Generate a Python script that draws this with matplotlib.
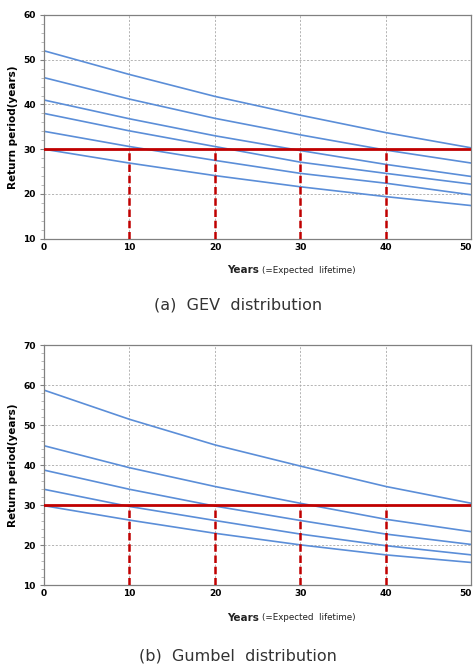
import numpy as np
import matplotlib.pyplot as plt
from matplotlib.ticker import MultipleLocator

plt.rcParams['font.family'] = ['DejaVu Sans']

years = [0, 10, 20, 30, 40, 50]
x_ticks = [0, 10, 20, 30, 40, 50]

# GEV distribution curves (return period, years)
gev_1 = [52.0, 46.7, 41.8, 37.6, 33.7, 30.3]
gev_2 = [46.0, 41.2, 36.9, 33.2, 29.8, 26.9]
gev_3 = [41.0, 36.8, 33.0, 29.7, 26.6, 23.9]
gev_4 = [38.0, 34.1, 30.6, 27.1, 24.6, 22.2]
gev_5 = [34.0, 30.6, 27.5, 24.6, 22.4, 19.8]
gev_6 = [30.0, 26.9, 24.1, 21.6, 19.4, 17.4]

# Gumbel distribution curves
gum_1 = [58.8, 51.5, 45.1, 39.8, 34.7, 30.5]
gum_2 = [44.9, 39.4, 34.7, 30.5, 26.5, 23.4]
gum_3 = [38.8, 34.0, 29.8, 26.2, 22.8, 20.2]
gum_4 = [34.0, 29.7, 26.2, 22.8, 19.9, 17.6]
gum_5 = [29.9, 26.3, 23.0, 20.1, 17.6, 15.7]

target_T = 30
marker_years = [10, 20, 30, 40]

blue = '#5b8ed8'
red = '#c00000'

fig = plt.figure(figsize=(4.76, 6.66), dpi=100)
ax1 = fig.add_axes([0.0924, 0.6416, 0.898, 0.3359])
ax2 = fig.add_axes([0.0924, 0.1212, 0.898, 0.3603])


def style(ax, ymax):
    ax.set_xlim(0, 50)
    ax.set_ylim(10, ymax)
    ax.set_xticks(x_ticks, [str(t) for t in x_ticks])
    ax.yaxis.set_major_locator(MultipleLocator(10))
    ax.yaxis.set_minor_locator(MultipleLocator(2))
    ax.grid(True, which='major', color='#a8a8a8', linestyle=(0, (2.5, 2)), linewidth=0.6)
    for s in ax.spines.values():
        s.set_color('#808080')
        s.set_linewidth(0.9)
    ax.tick_params(axis='both', which='major', length=3, labelsize=6.5, color='#808080', pad=3)
    ax.tick_params(axis='y', which='minor', length=2, color='#b0b0b0')
    ax.tick_params(axis='x', which='major', length=0)
    for lab in ax.get_xticklabels() + ax.get_yticklabels():
        lab.set_fontweight('bold')
    # keep the last x label inside the figure
    ax.get_xticklabels()[-1].set_horizontalalignment('right')
    ax.set_ylabel('Return period(years)', fontsize=7.5, fontweight='bold', labelpad=4)


def draw(ax, curves):
    for c in curves:
        ax.plot(years, c, color=blue, linewidth=1.2)
    ax.plot([0, 50], [target_T, target_T], color=red, linewidth=2, zorder=5)
    for yr in marker_years:
        ax.plot([yr, yr], [10, target_T], color=red, linewidth=1.8,
                linestyle=(0, (3, 1.5)), zorder=5)


style(ax1, 60)
draw(ax1, [gev_1, gev_2, gev_3, gev_4, gev_5, gev_6])
style(ax2, 70)
draw(ax2, [gum_1, gum_2, gum_3, gum_4, gum_5])

# x-axis labels: bold "Years" plus smaller note
for y_px in (270, 618):
    yf = 1 - y_px / 666
    fig.text(0.545, yf, 'Years', fontsize=7.5, fontweight='bold', ha='right', va='center', color='#222222')
    fig.text(0.55, yf, '(=Expected  lifetime)', fontsize=6.3, ha='left', va='center', color='#222222')

fig.text(0.5, 1 - 305 / 666, '(a)  GEV  distribution', fontsize=11.5, ha='center', va='center', color='#333333')
fig.text(0.5, 1 - 656 / 666, '(b)  Gumbel  distribution', fontsize=11.5, ha='center', va='center', color='#333333')

fig.savefig('out.png', dpi=100)
